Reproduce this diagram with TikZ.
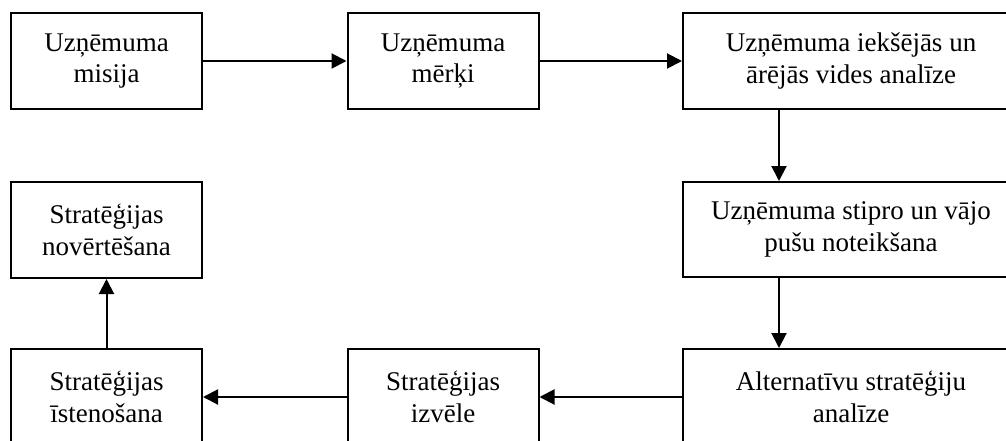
\documentclass[tikz,border=0pt]{standalone}
\usepackage{fontspec}
\setmainfont{Liberation Serif}
\usetikzlibrary{arrows.meta}
\begin{document}
\begin{tikzpicture}[x=1pt,y=-1pt,
  box/.style={draw=black,line width=2pt,fill=white,inner sep=0pt,align=center,
    font=\fontsize{27}{31.5}\selectfont},
  smallbox/.style={box,minimum width=191pt,minimum height=96pt},
  widebox/.style={box,minimum width=336pt,minimum height=96pt},
  arr/.style={line width=2pt,-{Triangle[length=15pt,width=15pt]}}]
\useasboundingbox (0,0) rectangle (1006,441);
\clip (0,0) rectangle (1006,441);
\node[smallbox] (b1) at (106.5,61) {Uzņēmuma\\misija};
\node[smallbox] (b2) at (443,61) {Uzņēmuma\\mērķi};
\node[widebox] (b3) at (851,61) {Uzņēmuma iekšējās un\\ārējās vides analīze};
\node[widebox,minimum height=95pt] (b4) at (851,229.5) {Uzņēmuma stipro un vājo\\pušu noteikšana};
\node[widebox] (b5) at (851,397) {Alternatīvu stratēģiju\\analīze};
\node[smallbox] (b6) at (443,397) {Stratēģijas\\izvēle};
\node[smallbox] (b7) at (106.5,397) {Stratēģijas\\īstenošana};
\node[smallbox] (b8) at (106.5,230) {Stratēģijas\\novērtēšana};
\draw[arr] (b1.east) -- (b2.west);
\draw[arr] (b2.east) -- (b3.west);
\draw[arr] ([xshift=-72pt]b3.south) -- ([xshift=-72pt]b4.north);
\draw[arr] ([xshift=-72pt]b4.south) -- ([xshift=-72pt]b5.north);
\draw[arr] (b5.west) -- (b6.east);
\draw[arr] (b6.west) -- (b7.east);
\draw[arr] (b7.north) -- (b8.south);
\end{tikzpicture}
\end{document}
